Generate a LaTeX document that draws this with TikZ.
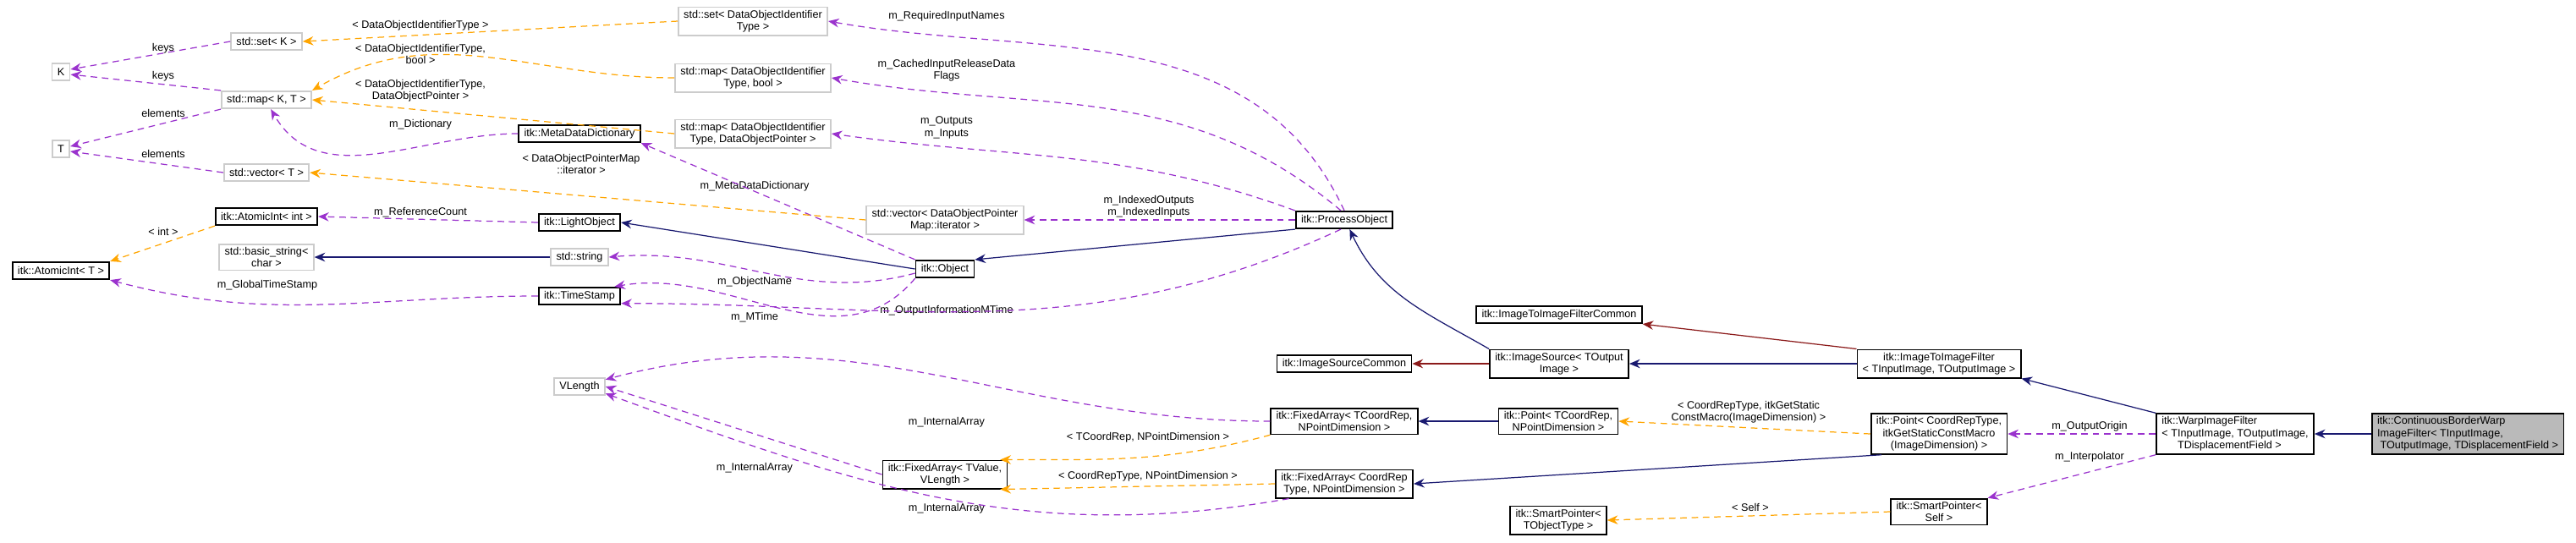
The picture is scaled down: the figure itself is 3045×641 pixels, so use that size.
\documentclass[tikz,border=0pt]{standalone}
\usepackage{fontspec}
\setmainfont{Liberation Sans}
\usetikzlibrary{arrows.meta}

\definecolor{usecol}{RGB}{154,50,205}
\definecolor{tplcol}{RGB}{255,165,0}
\definecolor{inhcol}{RGB}{25,25,112}
\definecolor{prvcol}{RGB}{139,26,26}

\tikzset{
  cls/.style={draw=black, line width=0.5pt, fill=white, inner xsep=1.8pt, inner ysep=1pt,
    minimum height=5.8pt, align=center, font=\fontsize{3.6}{4.1}\selectfont},
  ext/.style={cls, draw=black!20},
  me/.style={cls, fill=black!27},
  lbl/.style={inner sep=0pt, align=center, font=\fontsize{3.6}{4.1}\selectfont},
  use/.style={draw=usecol, dash pattern=on 2.2pt off 1.6pt, line width=0.35pt,
    -{Stealth[length=3.6pt,width=3pt]}},
  tpl/.style={use, draw=tplcol},
  inh/.style={draw=inhcol, line width=0.35pt, -{Stealth[length=3.6pt,width=3pt]}},
  prv/.style={inh, draw=prvcol},
}

\begin{document}
\begin{tikzpicture}[x=0.01cm, y=-0.01cm]
\useasboundingbox (0,0) rectangle (3045,641);
% classes
\node[ext] (K) at (72,85) {K};
\node[ext] (T) at (72,176) {T};
\node[cls] (atomT) at (72,320) {itk::AtomicInt< T >};
\node[ext] (setK) at (315,49) {std::set< K >};
\node[ext] (mapKT) at (315,118) {std::map< K, T >};
\node[ext] (vecT) at (315,204) {std::vector< T >};
\node[cls] (atomInt) at (315,256) {itk::AtomicInt< int >};
\node[ext] (bstr) at (315,304) {std::basic\_string<\\char >};
\node[cls] (mdd) at (685,158) {itk::MetaDataDictionary};
\node[cls] (light) at (685,263) {itk::LightObject};
\node[ext] (str) at (685,304) {std::string};
\node[cls] (tstamp) at (685,350) {itk::TimeStamp};
\node[ext] (vlen) at (685,457) {VLength};
\node[ext] (setDO) at (890,25) {std::set< DataObjectIdentifier\\Type >};
\node[ext] (mapBool) at (890,92) {std::map< DataObjectIdentifier\\Type, bool >};
\node[ext] (mapDO) at (890,158) {std::map< DataObjectIdentifier\\Type, DataObjectPointer >};
\node[ext] (vecDO) at (1117,260) {std::vector< DataObjectPointer\\Map::iterator >};
\node[cls] (obj) at (1117,318) {itk::Object};
\node[cls] (faVal) at (1117,561) {itk::FixedArray< TValue,\\VLength >};
\node[cls] (po) at (1589,260) {itk::ProcessObject};
\node[cls] (isc) at (1589,430) {itk::ImageSourceCommon};
\node[cls] (faRep) at (1589,498) {itk::FixedArray< TCoordRep,\\NPointDimension >};
\node[cls] (faType) at (1589,572) {itk::FixedArray< CoordRep\\Type, NPointDimension >};
\node[cls] (iifc) at (1843,372) {itk::ImageToImageFilterCommon};
\node[cls] (isrc) at (1843,430) {itk::ImageSource< TOutput\\Image >};
\node[cls] (ptRep) at (1842,498) {itk::Point< TCoordRep,\\NPointDimension >};
\node[cls] (spObj) at (1842,615) {itk::SmartPointer<\\TObjectType >};
\node[cls] (iif) at (2292,430) {itk::ImageToImageFilter\\< TInputImage, TOutputImage >};
\node[cls] (ptType) at (2292,513) {itk::Point< CoordRepType,\\itkGetStaticConstMacro\\(ImageDimension) >};
\node[cls] (spSelf) at (2292,605) {itk::SmartPointer<\\Self >};
\node[cls, align=left] (warp) at (2642,513) {itk::WarpImageFilter\\< TInputImage, TOutputImage,\\\hphantom{< T}TDisplacementField >};
\node[me, align=left] (cbw) at (2917,513) {itk::ContinuousBorderWarp\\ImageFilter< TInputImage,\\\hphantom{I}TOutputImage, TDisplacementField >};
% labels
\node[lbl] (l1) at (497,30) {< DataObjectIdentifierType >};
\node[lbl] (l2) at (193,57) {keys};
\node[lbl] (l3) at (193,90) {keys};
\node[lbl] (l4) at (497,64) {< DataObjectIdentifierType,\\bool >};
\node[lbl] (l5) at (497,107) {< DataObjectIdentifierType,\\DataObjectPointer >};
\node[lbl] (l6) at (193,134) {elements};
\node[lbl] (l7) at (193,182) {elements};
\node[lbl] (l8) at (497,147) {m\_Dictionary};
\node[lbl] (l9) at (687,194) {< DataObjectPointerMap\\::iterator >};
\node[lbl] (l10) at (497,251) {m\_ReferenceCount};
\node[lbl] (l11) at (193,274) {< int >};
\node[lbl] (l12) at (316,337) {m\_GlobalTimeStamp};
\node[lbl] (l13) at (892,220) {m\_MetaDataDictionary};
\node[lbl] (l14) at (1119,19) {m\_RequiredInputNames};
\node[lbl] (l15) at (1119,83) {m\_CachedInputReleaseData\\Flags};
\node[lbl] (l16) at (1119,151) {m\_Outputs\\m\_Inputs};
\node[lbl] (l17) at (1358,244) {m\_IndexedOutputs\\m\_IndexedInputs};
\node[lbl] (l18) at (892,333) {m\_ObjectName};
\node[lbl] (l19) at (892,375) {m\_MTime};
\node[lbl] (l20) at (1119,367) {m\_OutputInformationMTime};
\node[lbl] (l21) at (1119,499) {m\_InternalArray};
\node[lbl] (l22) at (892,553) {m\_InternalArray};
\node[lbl] (l23) at (1119,601) {m\_InternalArray};
\node[lbl] (l24) at (1357,517) {< TCoordRep, NPointDimension >};
\node[lbl] (l25) at (1357,563) {< CoordRepType, NPointDimension >};
\node[lbl] (l26) at (2067,487) {< CoordRepType, itkGetStatic\\ConstMacro(ImageDimension) >};
\node[lbl] (l27) at (2069,600) {< Self >};
\node[lbl] (l28) at (2470,504) {m\_OutputOrigin};
\node[lbl] (l29) at (2470,540) {m\_Interpolator};
% members
\draw[use] (setK.west) -- (K.15);
\draw[use] (mapKT.north west) -- (K.-15);
\draw[use] (mapKT.south west) -- (T.15);
\draw[use] (vecT.west) -- (T.-15);
\draw[use] (mdd.west) to[out=180, in=-60] (mapKT.-65);
\draw[use] (obj.north west) -- (mdd.south east);
\draw[use] (po.north) to[out=115, in=-10] (setDO.east);
\draw[use] (po.110) to[out=140, in=-10] (mapBool.east);
\draw[use] (po.north west) to[out=160, in=-8] (mapDO.east);
\draw[use] (po.west) -- (vecDO.east);
\draw[use] (light.west) -- (atomInt.east);
\draw[use] (obj.west) ++(0,5) to[out=195, in=5] (str.east);
\draw[use] (obj.south west) to[out=-130, in=10] (tstamp.15);
\draw[use] (po.-110) to[out=-155, in=0] (tstamp.-10);
\draw[use] (tstamp.west) to[out=180, in=-15] (atomT.south east);
\draw[use] (faRep.west) to[out=180, in=15] (vlen.15);
\draw[use] (faVal.west) -- (vlen.east);
\draw[use] (faType.-165) to[out=190, in=-20] (vlen.-15);
\draw[use] (warp.west) -- (ptType.east);
\draw[use] (warp.south west) -- (spSelf.north east);
% templates
\draw[tpl] (setDO.west) -- (setK.east);
\draw[tpl] (mapBool.west) to[out=180, in=30] (mapKT.north east);
\draw[tpl] (mapDO.west) -- (mapKT.east);
\draw[tpl] (vecDO.west) -- (vecT.east);
\draw[tpl] (atomInt.south west) -- (atomT.north east);
\draw[tpl] (faRep.south west) to[out=195, in=0] (faVal.15);
\draw[tpl] (faType.west) -- (faVal.-15);
\draw[tpl] (ptType.west) -- (ptRep.east);
\draw[tpl] (spSelf.west) -- (spObj.east);
% inheritance
\draw[inh] (str.west) -- (bstr.east);
\draw[inh] (obj.west) -- (light.east);
\draw[inh] (po.south west) -- (obj.north east);
\draw[inh] (isrc.north west) to[out=150, in=-65] (po.-60);
\draw[inh] (iif.west) -- (isrc.east);
\draw[inh] (warp.north west) -- (iif.south east);
\draw[inh] (cbw.west) -- (warp.east);
\draw[inh] (ptRep.west) -- (faRep.east);
\draw[inh] (ptType.-160) -- (faType.east);
\draw[prv] (isrc.west) -- (isc.east);
\draw[prv] (iif.north west) -- (iifc.south east);
\end{tikzpicture}
\end{document}
